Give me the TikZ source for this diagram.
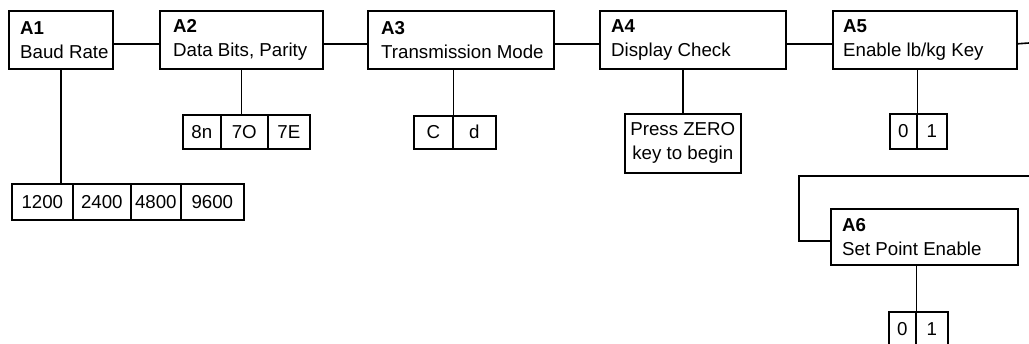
\documentclass[tikz,border=0pt]{standalone}
\usepackage{fontspec}
\setmainfont{Liberation Sans}
\usetikzlibrary{positioning}

\begin{document}
\begin{tikzpicture}[
  x=1pt, y=-1pt,
  font=\fontsize{18.7}{24}\selectfont,
  menu box/.style  = {draw=black, line width=1.6pt, anchor=north west,
                      minimum height=58pt, inner sep=0pt},
  menu text/.style = {anchor=west, align=left, inner sep=0pt},
  val cell/.style  = {draw=black, line width=1.6pt, anchor=north west,
                      minimum height=35pt, inner sep=0pt},
  link/.style      = {draw=black, line width=1.6pt},
]

% ── Page frame (pixel grid, y grows downwards) ─────────────────────────────
\useasboundingbox (0,0) rectangle (1029,343);
\clip (0,0) rectangle (1029,343);

% ── Menu boxes ─────────────────────────────────────────────────────────────
\node[menu box, minimum width=104pt] (a1) at (8,10)   {};
\node[menu box, minimum width=163pt] (a2) at (159,10) {};
\node[menu box, minimum width=186pt] (a3) at (367,10) {};
\node[menu box, minimum width=186pt] (a4) at (599,10) {};
\node[menu box, minimum width=184pt] (a5) at (832,10) {};
\node[menu box, minimum width=187pt, minimum height=56pt] (a6) at (830,208) {};

\node[menu text] (a1 text) at ([xshift=12pt]a1.west) {\textbf{A1}\\Baud Rate};
\node[menu text] (a2 text) at ([xshift=14pt]a2.west) {\textbf{A2}\\Data Bits, Parity};
\node[menu text] (a3 text) at ([xshift=14pt]a3.west) {\textbf{A3}\\Transmission Mode};
\node[menu text] (a4 text) at ([xshift=12pt]a4.west) {\textbf{A4}\\Display Check};
\node[menu text] (a5 text) at ([xshift=11pt]a5.west) {\textbf{A5}\\Enable lb/kg Key};
\node[menu text] (a6 text) at ([xshift=12pt]a6.west) {\textbf{A6}\\Set Point Enable};

% ── Value rows ─────────────────────────────────────────────────────────────
\foreach \x/\w/\t [count=\i] in {11/61/1200, 72/58/2400, 130/50/4800, 180/63/9600}
  \node[val cell, minimum width=\w, minimum height=36pt] (a1v\i) at (\x,183) {\t};

\foreach \x/\w/\t [count=\i] in {182/38/8n, 220/47/7O, 267/42/7E}
  \node[val cell, minimum width=\w, minimum height=34pt] (a2v\i) at (\x,114) {\t};

\foreach \x/\w/\t [count=\i] in {413/39/C, 452/43/d}
  \node[val cell, minimum width=\w, minimum height=33pt] (a3v\i) at (\x,115) {\t};

\node[val cell, minimum width=116pt, minimum height=59pt, align=center]
  (press) at (624,113) {Press ZERO\\key to begin};

\foreach \x/\w/\t [count=\i] in {889/27/0, 916/30/1}
  \node[val cell, minimum width=\w] (a5v\i) at (\x,113) {\t};

\foreach \x/\w/\t [count=\i] in {888/27/0, 915/32/1}
  \node[val cell, minimum width=\w] (a6v\i) at (\x,311) {\t};

% ── Stems down to the values ───────────────────────────────────────────────
\draw[link] (a1.south) -- (a1.south |- a1v1.north);
\draw[link] (a2.south) -- (a2.south |- a2v2.north);
\draw[link] (a3v1.north east) -- (a3v1.north east |- a3.south);
\draw[link] (press.north) -- (press.north |- a4.south);
\draw[link] (a5v1.north east) -- (a5v1.north east |- a5.south);
\draw[link] (a6v1.north east) -- (a6v1.north east |- a6.south);

% ── Chain between menu boxes ───────────────────────────────────────────────
\foreach \p/\n in {a1/a2, a2/a3, a3/a4, a4/a5}
  \draw[link] ([yshift=-4pt]\p.east) -- ([yshift=-4pt]\n.west);

% wrap round to the second row
\coordinate (edge top) at (1029,43);
\coordinate (edge low) at (1029,176);
\coordinate (turn)     at (799,176);
\draw[link] ([yshift=-4pt]a5.east) -- (edge top);
\draw[link] (edge low) -- (turn) |- ([yshift=-4pt]a6.west);

\end{tikzpicture}
\end{document}
